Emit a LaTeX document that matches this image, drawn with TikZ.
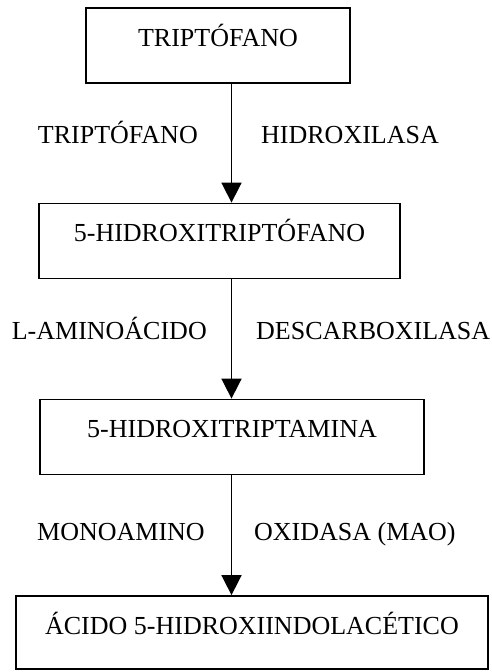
\documentclass[tikz,border=0pt]{standalone}
\usepackage{fontspec}
\setmainfont{Liberation Serif}
\usetikzlibrary{arrows.meta}
\begin{document}
\begin{tikzpicture}[x=1pt,y=1pt,
  box/.style={draw, line width=1.8pt, inner xsep=0pt, inner ysep=0pt,
    text height=38pt, text depth=37pt, font=\fontsize{26}{30}\selectfont},
  lbl/.style={inner sep=0pt, font=\fontsize{26}{30}\selectfont},
  conn/.style={line width=1.7pt, -{Triangle[length=20pt,width=20pt]}}]
\useasboundingbox (0,0) rectangle (491,-672);
\coordinate (ax) at (231.5,0);
\node[box, minimum width=264pt] (b1) at (218,-45.5) {TRIPTÓFANO};
\node[box, minimum width=361pt] (b2) at (219.5,-241) {5-HIDROXITRIPTÓFANO};
\node[box, minimum width=384pt] (b3) at (232,-437) {5-HIDROXITRIPTAMINA};
\node[box, minimum width=472pt, text depth=35pt] (b4) at (252,-632.5) {ÁCIDO 5-HIDROXIINDOLACÉTICO};
\draw[conn] (b1.south -| ax) -- (b2.north -| ax);
\draw[conn] (b2.south -| ax) -- (b3.north -| ax);
\draw[conn] (b3.south -| ax) -- (b4.north -| ax);
\node[lbl, anchor=base east] (l1) at (198,-143) {TRIPTÓFANO};
\node[lbl, anchor=base west] (r1) at (261,-143) {HIDROXILASA};
\node[lbl, anchor=base east] (l2) at (207,-339) {L-AMINOÁCIDO};
\node[lbl, anchor=base west] (r2) at (256,-339) {DESCARBOXILASA};
\node[lbl, anchor=base east] (l3) at (205,-540) {MONOAMINO};
\node[lbl, anchor=base west] (r3) at (254,-540) {OXIDASA (MAO)};
\end{tikzpicture}
\end{document}
